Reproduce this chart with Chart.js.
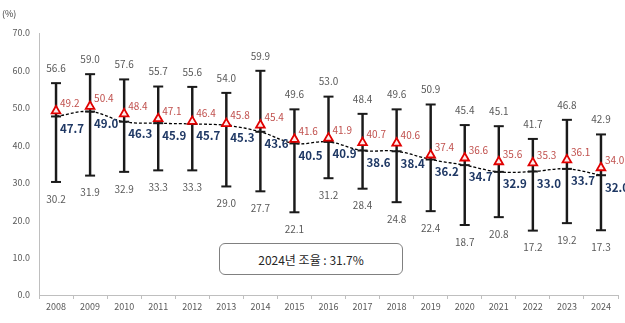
<!DOCTYPE html>
<html>
<head>
<meta charset="utf-8">
<script src="https://cdn.jsdelivr.net/npm/chart.js@4.4.1/dist/chart.umd.min.js"></script>
<style>
  html, body { margin: 0; padding: 0; background: #fff; }
  #wrap { position: relative; width: 625px; height: 323px; }
  #note {
    position: absolute; left: 219px; top: 243px; width: 182px; height: 30px;
    border: 1px solid #808080; border-radius: 6px; box-sizing: content-box;
    font-family: "Noto Sans CJK KR", "Noto Sans", sans-serif; font-size: 12px; color: #262626;
    display: flex; align-items: center; justify-content: center; background: #fff;
  }
</style>
</head>
<body>
<div id="wrap">
  <canvas id="c" width="625" height="323"></canvas>
  <div id="note">2024년 조율 : 31.7%</div>
</div>
<script>
const years = ['2008','2009','2010','2011','2012','2013','2014','2015','2016','2017','2018','2019','2020','2021','2022','2023','2024'];
const maxVals = [56.6, 59.0, 57.6, 55.7, 55.6, 54.0, 59.9, 49.6, 53.0, 48.4, 49.6, 50.9, 45.4, 45.1, 41.7, 46.8, 42.9];
const minVals = [30.2, 31.9, 32.9, 33.3, 33.3, 29.0, 27.7, 22.1, 31.2, 28.4, 24.8, 22.4, 18.7, 20.8, 17.2, 19.2, 17.3];
const meanVals = [49.2, 50.4, 48.4, 47.1, 46.4, 45.8, 45.4, 41.6, 41.9, 40.7, 40.6, 37.4, 36.6, 35.6, 35.3, 36.1, 34.0];
const medianVals = [47.7, 49.0, 46.3, 45.9, 45.7, 45.3, 43.6, 40.5, 40.9, 38.6, 38.4, 36.2, 34.7, 32.9, 33.0, 33.7, 32.0];
const yTicks = [0, 10, 20, 30, 40, 50, 60, 70];

const FONT = '"Noto Sans CJK KR", "Noto Sans", sans-serif';

const labelPlugin = {
  id: 'labels',
  afterDatasetsDraw(chart) {
    const ctx = chart.ctx;
    ctx.save();
    const draw = (dsIndex, vals, opts) => {
      const meta = chart.getDatasetMeta(dsIndex);
      meta.data.forEach((pt, i) => {
        ctx.font = opts.font;
        ctx.fillStyle = opts.color;
        ctx.textAlign = opts.align;
        ctx.textBaseline = 'middle';
        ctx.fillText(vals[i].toFixed(1), pt.x + opts.dx, pt.y + opts.dy);
      });
    };
    draw(2, maxVals, {font: '10px ' + FONT, color: '#595959', align: 'center', dx: 0, dy: -15});
    draw(3, minVals, {font: '10px ' + FONT, color: '#595959', align: 'center', dx: 0, dy: 17});
    draw(0, meanVals, {font: '10px ' + FONT, color: '#c0504d', align: 'left', dx: 4, dy: -8});
    draw(1, medianVals, {font: 'bold 11.5px ' + FONT, color: '#1f3864', align: 'left', dx: 4, dy: 12});
    ctx.font = '9px ' + FONT;
    ctx.fillStyle = '#404040';
    ctx.textAlign = 'left';
    ctx.textBaseline = 'middle';
    ctx.fillText('(%)', 2, 14);
    ctx.restore();
  }
};

new Chart(document.getElementById('c'), {
  type: 'bar',
  data: {
    labels: years,
    datasets: [
      {
        type: 'line', label: 'mean', data: meanVals, showLine: false, order: 0,
        pointStyle: 'triangle', pointRadius: 5, pointBorderWidth: 1.8,
        pointBorderColor: '#e00000', pointBackgroundColor: '#fdeaea'
      },
      {
        type: 'line', label: 'median', data: medianVals, order: 1,
        borderColor: '#000', borderWidth: 1.3, borderDash: [3, 2], tension: 0.4, fill: false,
        pointStyle: 'line', pointRadius: 5, pointBorderWidth: 2, pointBorderColor: '#1a1a1a'
      },
      {
        type: 'line', label: 'max', data: maxVals, showLine: false, order: 2,
        pointStyle: 'line', pointRadius: 5, pointBorderWidth: 2, pointBorderColor: '#1a1a1a'
      },
      {
        type: 'line', label: 'min', data: minVals, showLine: false, order: 3,
        pointStyle: 'line', pointRadius: 5, pointBorderWidth: 2, pointBorderColor: '#1a1a1a'
      },
      {
        type: 'bar', label: 'range', data: years.map((y, i) => [minVals[i], maxVals[i]]), order: 4,
        backgroundColor: '#1a1a1a', borderWidth: 0, barThickness: 1.8
      }
    ]
  },
  options: {
    responsive: false,
    animation: false,
    events: [],
    layout: { padding: { top: 33, left: 0, right: 5, bottom: 0 } },
    plugins: { legend: { display: false }, tooltip: { enabled: false } },
    scales: {
      x: {
        offset: true,
        grid: { display: true, drawOnChartArea: false, offset: true, tickLength: 4, color: '#bfbfbf', lineWidth: 1 },
        border: { display: true, color: '#bfbfbf', width: 1 },
        ticks: { font: { size: 9, family: FONT }, color: '#595959', padding: 2, maxRotation: 0, autoSkip: false },
        afterFit(s) { s.height = 28; }
      },
      y: {
        min: 0, max: 70,
        grid: { display: false, drawTicks: false },
        border: { display: true, color: '#bfbfbf', width: 1 },
        afterBuildTicks(s) { s.ticks = yTicks.map(v => ({ value: v })); },
        ticks: { font: { size: 9, family: FONT }, color: '#595959', padding: 9, callback: v => Number(v).toFixed(1) },
        afterFit(s) { s.width = 39; }
      }
    }
  },
  plugins: [labelPlugin]
});
</script>
</body>
</html>
